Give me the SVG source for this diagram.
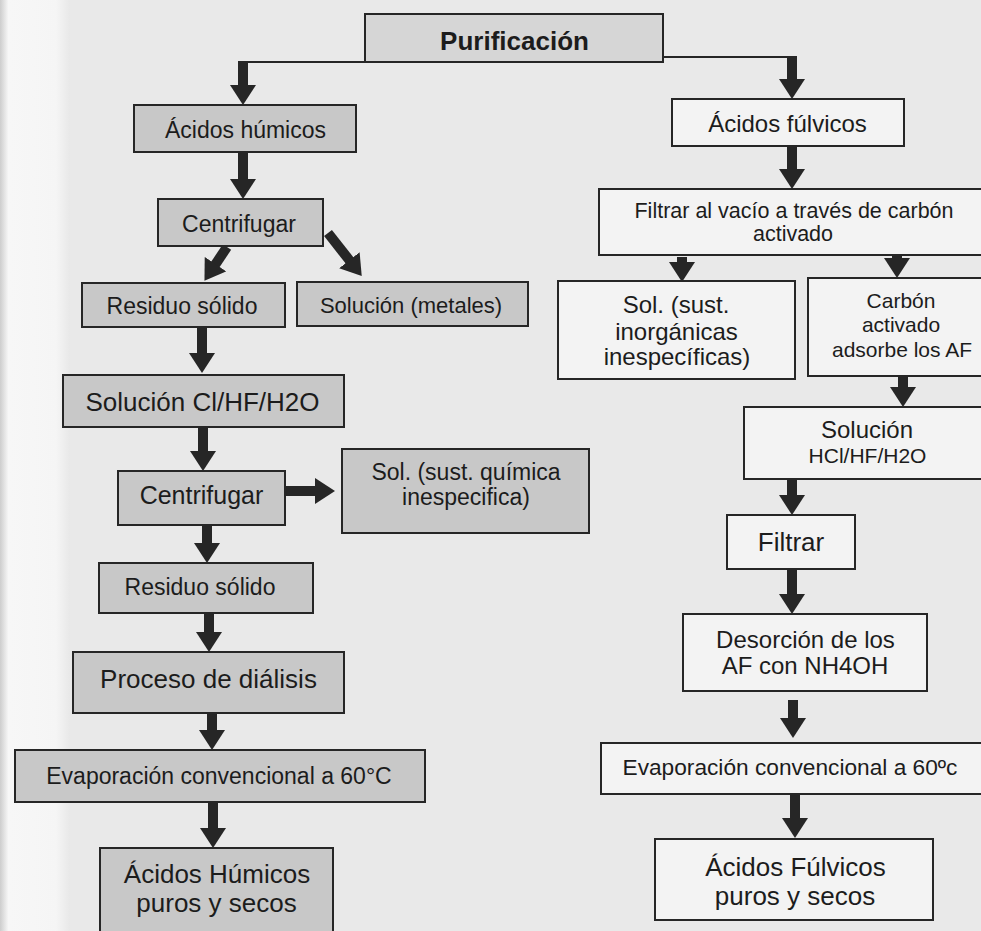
<svg xmlns="http://www.w3.org/2000/svg" width="981" height="931" viewBox="0 0 981 931">
<defs>
<linearGradient id="margin" x1="0" y1="0" x2="1" y2="0">
<stop offset="0" stop-color="#cdcdcd"/>
<stop offset="0.12" stop-color="#f7f7f7"/>
<stop offset="0.8" stop-color="#f5f5f5"/>
<stop offset="1" stop-color="#e8e8e8"/>
</linearGradient>
<marker id="ah" viewBox="0 0 20 26" refX="1" refY="13" markerWidth="20" markerHeight="26" markerUnits="userSpaceOnUse" orient="auto">
<path d="M0,0 L20,13 L0,26 Z" fill="#262626"/>
</marker>
</defs>
<style>
.bx{stroke:#262626;stroke-width:2}
.g{fill:#c8c8c8}
.p{fill:#d6d6d6}
.w{fill:#f3f3f3}
text{font-family:"Liberation Sans",Arial,Helvetica,sans-serif;fill:#1c1c1c;text-anchor:middle}
.sh{stroke:#262626;stroke-width:10;fill:none}
.ln{stroke:#262626;stroke-width:2;fill:none}
</style>
<rect x="0" y="0" width="981" height="931" fill="#e9e9e9"/>
<rect x="0" y="0" width="70" height="931" fill="url(#margin)"/>

<g id="connectors">
<path class="ln" d="M365,62 H243"/>
<path class="ln" d="M663,57 H792"/>
<line class="sh" x1="243" y1="61" x2="243" y2="86" marker-end="url(#ah)"/>
<line class="sh" x1="243" y1="153" x2="243" y2="180" marker-end="url(#ah)"/>
<line class="sh" x1="227" y1="247" x2="215" y2="265" marker-end="url(#ah)"/>
<line class="sh" x1="328" y1="233" x2="350" y2="261" marker-end="url(#ah)"/>
<line class="sh" x1="202" y1="327" x2="202" y2="354" marker-end="url(#ah)"/>
<line class="sh" x1="203" y1="428" x2="203" y2="452" marker-end="url(#ah)"/>
<line class="sh" x1="286" y1="491" x2="316" y2="491" marker-end="url(#ah)"/>
<line class="sh" x1="207" y1="526" x2="207" y2="544" marker-end="url(#ah)"/>
<line class="sh" x1="209" y1="614" x2="209" y2="633" marker-end="url(#ah)"/>
<line class="sh" x1="212" y1="714" x2="212" y2="731" marker-end="url(#ah)"/>
<line class="sh" x1="213" y1="803" x2="213" y2="829" marker-end="url(#ah)"/>
<line class="sh" x1="792" y1="56" x2="792" y2="80" marker-end="url(#ah)"/>
<line class="sh" x1="792" y1="147" x2="792" y2="170" marker-end="url(#ah)"/>
<line class="sh" x1="682" y1="257" x2="682" y2="263" marker-end="url(#ah)"/>
<line class="sh" x1="897" y1="253" x2="897" y2="259" marker-end="url(#ah)"/>
<line class="sh" x1="903" y1="377" x2="903" y2="388" marker-end="url(#ah)"/>
<line class="sh" x1="792" y1="480" x2="792" y2="496" marker-end="url(#ah)"/>
<line class="sh" x1="792" y1="570" x2="792" y2="595" marker-end="url(#ah)"/>
<line class="sh" x1="793" y1="700" x2="793" y2="719" marker-end="url(#ah)"/>
<line class="sh" x1="795" y1="795" x2="795" y2="819" marker-end="url(#ah)"/>
</g>

<g id="purificacion">
<rect class="bx p" x="365" y="14" width="298" height="48"/>
<text x="514.5" y="50" font-size="26" font-weight="bold">Purificación</text>
</g>

<g id="acidos-humicos">
<rect class="bx g" x="134" y="105" width="222" height="47"/>
<text x="245.5" y="138" font-size="23">Ácidos húmicos</text>
</g>
<g id="centrifugar1">
<rect class="bx g" x="158" y="199" width="165" height="47"/>
<text x="239" y="232" font-size="23">Centrifugar</text>
</g>
<g id="residuo1">
<rect class="bx g" x="82" y="283" width="203" height="44"/>
<text x="182" y="314" font-size="23">Residuo sólido</text>
</g>
<g id="solucion-metales">
<rect class="bx g" x="297" y="282" width="231" height="44"/>
<text x="411" y="313" font-size="22">Solución (metales)</text>
</g>
<g id="solucion-cl">
<rect class="bx g" x="63" y="375" width="281" height="52"/>
<text x="202.5" y="411" font-size="26">Solución Cl/HF/H2O</text>
</g>
<g id="centrifugar2">
<rect class="bx g" x="118" y="471" width="167" height="54"/>
<text x="201.5" y="504" font-size="25">Centrifugar</text>
</g>
<g id="sol-quimica">
<rect class="bx g" x="342" y="449" width="247" height="84"/>
<text x="466" y="480" font-size="23">Sol. (sust. química</text>
<text x="466" y="505" font-size="23">inespecifica)</text>
</g>
<g id="residuo2">
<rect class="bx g" x="99" y="563" width="214" height="50"/>
<text x="200" y="595" font-size="23">Residuo sólido</text>
</g>
<g id="dialisis">
<rect class="bx g" x="73" y="652" width="271" height="61"/>
<text x="208.5" y="688" font-size="26">Proceso de diálisis</text>
</g>
<g id="evaporacion-h">
<rect class="bx g" x="15" y="750" width="410" height="52"/>
<text x="219" y="784" font-size="23">Evaporación convencional a 60°C</text>
</g>
<g id="humicos-puros">
<rect class="bx g" x="100" y="848" width="233" height="90"/>
<text x="217" y="883" font-size="26">Ácidos Húmicos</text>
<text x="216.5" y="912" font-size="26">puros y secos</text>
</g>

<g id="acidos-fulvicos">
<rect class="bx w" x="672" y="99" width="232" height="47"/>
<text x="787.5" y="132" font-size="24">Ácidos fúlvicos</text>
</g>
<g id="filtrar-vacio">
<rect class="bx w" x="599" y="189" width="395" height="66"/>
<text x="794" y="218" font-size="21.5">Filtrar al vacío a través de carbón</text>
<text x="793" y="241" font-size="21.5">activado</text>
</g>
<g id="sol-inorganicas">
<rect class="bx w" x="558" y="281" width="237" height="98"/>
<text x="676" y="313" font-size="24">Sol. (sust.</text>
<text x="676.5" y="340" font-size="24">inorgánicas</text>
<text x="677" y="365" font-size="24">inespecíficas)</text>
</g>
<g id="carbon">
<rect class="bx w" x="808" y="278" width="186" height="98"/>
<text x="901" y="308" font-size="21">Carbón</text>
<text x="901" y="332" font-size="21">activado</text>
<text x="902" y="357" font-size="21">adsorbe los AF</text>
</g>
<g id="solucion-hcl">
<rect class="bx w" x="744" y="407" width="250" height="72"/>
<text x="867" y="438" font-size="24">Solución</text>
<text x="867.5" y="463" font-size="21">HCl/HF/H2O</text>
</g>
<g id="filtrar">
<rect class="bx w" x="727" y="515" width="128" height="54"/>
<text x="791" y="551" font-size="26">Filtrar</text>
</g>
<g id="desorcion">
<rect class="bx w" x="683" y="614" width="244" height="77"/>
<text x="805.5" y="648" font-size="24">Desorción de los</text>
<text x="805" y="674" font-size="24">AF con NH4OH</text>
</g>
<g id="evaporacion-f">
<rect class="bx w" x="601" y="743" width="393" height="51"/>
<text x="790" y="775" font-size="22.7">Evaporación convencional a 60ºc</text>
</g>
<g id="fulvicos-puros">
<rect class="bx w" x="655" y="839" width="278" height="81"/>
<text x="795.5" y="876" font-size="26">Ácidos Fúlvicos</text>
<text x="795" y="905" font-size="26">puros y secos</text>
</g>
</svg>
